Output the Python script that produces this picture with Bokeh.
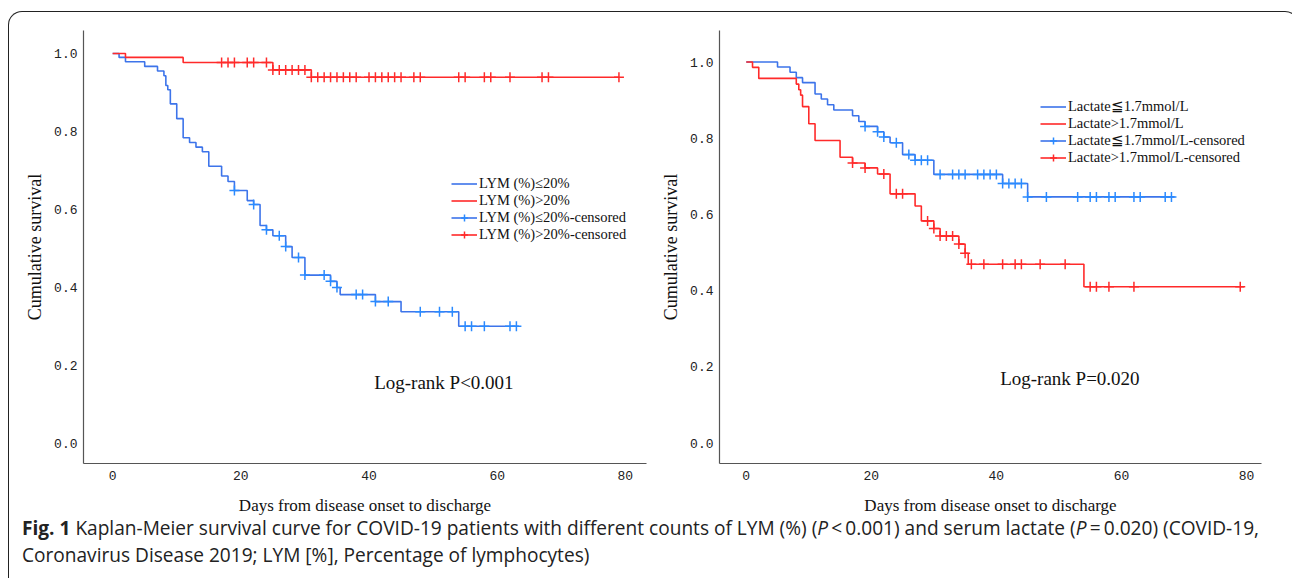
import numpy as np
from bokeh.plotting import figure
from bokeh.models import (Range1d, FixedTicker, Legend, LegendItem, Label, Div)
from bokeh.layouts import row, column
from bokeh.embed import file_html
from bokeh.resources import INLINE

# ---------------- data ----------------
x_ticks = [0, 20, 40, 60, 80]
y_ticks = [0.0, 0.2, 0.4, 0.6, 0.8, 1.0]
y_tick_labels = ["0.0", "0.2", "0.4", "0.6", "0.8", "1.0"]

# Panel A: LYM (%) <= 20%
lym_low_t = [0, 1, 2, 5, 7, 8, 8.3, 8.6, 9, 10, 11, 12, 13, 14, 15, 17, 18, 19, 21, 22, 23, 24, 25,
             27, 28, 30, 34, 35, 35.5, 41, 45, 54]
lym_low_s = [1.0, 0.99, 0.979, 0.967, 0.955, 0.943, 0.918, 0.907, 0.871, 0.833, 0.784, 0.772, 0.760,
             0.748, 0.711, 0.686, 0.672, 0.649, 0.623, 0.613, 0.559, 0.548, 0.533, 0.505, 0.477,
             0.432, 0.416, 0.400, 0.382, 0.364, 0.338, 0.301]
lym_low_end = 63.4
lym_low_cens = [19, 22, 24, 26, 27, 29, 30, 33, 34, 35, 38, 39, 41, 43, 48, 51, 53, 55, 56, 58, 62, 63]

# Panel A: LYM (%) > 20%
lym_high_t = [0, 2, 11, 25, 31]
lym_high_s = [1.0, 0.99, 0.977, 0.958, 0.939]
lym_high_end = 79
lym_high_cens = [17, 18, 19, 21, 22, 24, 25, 26, 27, 28, 29, 30, 31, 32, 33, 34, 35, 36, 37, 38,
                 40, 41, 42, 43, 44, 45, 47, 48, 54, 55, 58, 59, 62, 67, 68, 79]

# Panel B: Lactate <= 1.7 mmol/L
lac_low_t = [0, 5, 7, 8, 9, 11, 12, 13, 14, 17, 18, 19, 21, 22, 23, 25, 27, 30, 41, 45]
lac_low_s = [1.0, 0.987, 0.973, 0.959, 0.946, 0.916, 0.903, 0.888, 0.874, 0.859, 0.844, 0.831,
             0.817, 0.803, 0.788, 0.757, 0.742, 0.705, 0.681, 0.646]
lac_low_end = 68.5
lac_low_cens = [19, 21, 22, 24, 26, 27, 28, 29, 31, 33, 34, 35, 37, 38, 39, 40, 41, 42, 43, 44,
                45, 48, 53, 55, 56, 58, 59, 62, 63, 67, 68]

# Panel B: Lactate > 1.7 mmol/L
lac_high_t = [0, 1, 2, 8, 8.4, 8.7, 9, 10, 11, 15, 17, 19, 21, 23, 27, 28, 30, 31, 34, 35, 35.5, 54]
lac_high_s = [1.0, 0.986, 0.957, 0.942, 0.927, 0.913, 0.883, 0.838, 0.794, 0.750, 0.735, 0.722,
              0.706, 0.654, 0.622, 0.583, 0.563, 0.543, 0.522, 0.498, 0.469, 0.410]
lac_high_end = 79.6
lac_high_cens = [17, 19, 22, 24, 25, 29, 30, 31, 32, 33, 34, 35, 36, 38, 41, 43, 44, 47, 51,
                 55, 56, 58, 62, 79]

BLUE = "#3d74ea"
BLUE_C = "#2a8aff"
RED = "#ff2a2a"
SERIF = "Liberation Serif"
MONO = "Liberation Mono"


def surv_at(t_list, s_list, pts):
    t = np.asarray(t_list, dtype=float)
    s = np.asarray(s_list, dtype=float)
    idx = np.searchsorted(t, np.asarray(pts, dtype=float), side="right") - 1
    return s[idx]


def km(p, t, s, end, cens, line_color, cens_color):
    xs = list(t) + [end]
    ys = list(s) + [s[-1]]
    r_line = p.step(xs, ys, mode="after", line_color=line_color, line_width=1.6)
    r_c = p.scatter(cens, surv_at(t, s, cens), marker="cross", size=10,
                    line_color=cens_color, line_width=1.5)
    return r_line, r_c


def make_fig(width, xr, yr, bl, br):
    p = figure(width=width, height=506, output_backend="svg", toolbar_location=None,
               x_range=Range1d(*xr), y_range=Range1d(*yr),
               min_border_left=bl, min_border_top=18, min_border_bottom=55, min_border_right=br)
    p.outline_line_color = None
    p.xgrid.visible = False
    p.ygrid.visible = False
    p.background_fill_color = None
    p.border_fill_color = None
    for ax in (p.xaxis[0], p.yaxis[0]):
        ax.axis_line_color = "#555555"
        ax.axis_line_width = 1.2
        ax.major_tick_line_color = None
        ax.minor_tick_line_color = None
        ax.major_tick_out = 0
        ax.major_tick_in = 0
        ax.major_label_text_font = MONO
        ax.major_label_text_font_size = "13px"
        ax.major_label_text_color = "#222222"
        ax.axis_label_text_font = SERIF
        ax.axis_label_text_font_style = "normal"
        ax.axis_label_text_color = "#111111"
    p.xaxis.ticker = FixedTicker(ticks=x_ticks)
    p.yaxis.ticker = FixedTicker(ticks=y_ticks)
    p.yaxis.major_label_overrides = {v: l for v, l in zip(y_ticks, y_tick_labels)}
    p.xaxis.axis_label = "Days from disease onset to discharge"
    p.yaxis.axis_label = "Cumulative survival"
    p.xaxis.axis_label_text_font_size = "17px"
    p.yaxis.axis_label_text_font_size = "18px"
    p.xaxis.major_label_standoff = 7
    p.yaxis.major_label_standoff = 6
    p.xaxis.axis_label_standoff = 13
    p.yaxis.axis_label_standoff = 6
    return p


def add_legend(p, items, loc):
    lg = Legend(items=items, location=loc, label_text_font=SERIF, label_text_font_size="14.5px",
                label_text_color="#111111", glyph_width=26, glyph_height=17, label_height=17,
                label_standoff=2, spacing=0, padding=0, margin=0,
                border_line_alpha=0, background_fill_alpha=0)
    p.add_layout(lg, "center")


# ---------------- Panel A ----------------
p1 = make_fig(640, (-4.55, 83.3), (-0.051, 1.059), 74, 3)
a1, a1c = km(p1, lym_low_t, lym_low_s, lym_low_end, lym_low_cens, BLUE, BLUE_C)
a2, a2c = km(p1, lym_high_t, lym_high_s, lym_high_end, lym_high_cens, RED, RED)
add_legend(p1, [
    LegendItem(label="LYM (%)≤20%", renderers=[a1]),
    LegendItem(label="LYM (%)>20%", renderers=[a2]),
    LegendItem(label="LYM (%)≤20%-censored", renderers=[a1, a1c]),
    LegendItem(label="LYM (%)>20%-censored", renderers=[a2, a2c]),
], (368, 220))
p1.add_layout(Label(x=40.8, y=0.156, text="Log-rank P<0.001", text_font=SERIF,
                    text_font_size="19px", text_baseline="middle", text_color="#111111"))

# ---------------- Panel B ----------------
p2 = make_fig(639, (-4.28, 82.4), (-0.0538, 1.0827), 70, 27)
b1, b1c = km(p2, lac_low_t, lac_low_s, lac_low_end, lac_low_cens, BLUE, BLUE_C)
b2, b2c = km(p2, lac_high_t, lac_high_s, lac_high_end, lac_high_cens, RED, RED)
add_legend(p2, [
    LegendItem(label="Lactate≦1.7mmol/L", renderers=[b1]),
    LegendItem(label="Lactate>1.7mmol/L", renderers=[b2]),
    LegendItem(label="Lactate≦1.7mmol/L-censored", renderers=[b1, b1c]),
    LegendItem(label="Lactate>1.7mmol/L-censored", renderers=[b2, b2c]),
], (321, 297))
p2.add_layout(Label(x=40.6, y=0.168, text="Log-rank P=0.020", text_font=SERIF,
                    text_font_size="19px", text_baseline="middle", text_color="#111111"))

caption_html = (
    '<div style="font-family: \'Open Sans\', sans-serif; font-size: 19.1px; '
    'line-height: 26.5px; color: #222; padding-left: 8px; margin-top: -8px; white-space: nowrap;">'
    '<b>Fig. 1</b> Kaplan-Meier survival curve for COVID-19 patients with different counts of '
    'LYM (%) (<i>P</i>&thinsp;&lt;&thinsp;0.001) and serum lactate (<i>P</i>&thinsp;=&thinsp;0.020) (COVID-19,<br>'
    'Coronavirus Disease 2019; LYM [%], Percentage of lymphocytes)</div>'
)
cap = Div(text=caption_html, width=1279, height=50)

layout = column(row(p1, p2), cap,
                styles={"border": "1.5px solid #222", "border-bottom": "none",
                        "border-radius": "14px 14px 0 0", "margin-top": "11px",
                        "margin-left": "8px"})

open("out.html", "w").write(file_html(layout, INLINE))
